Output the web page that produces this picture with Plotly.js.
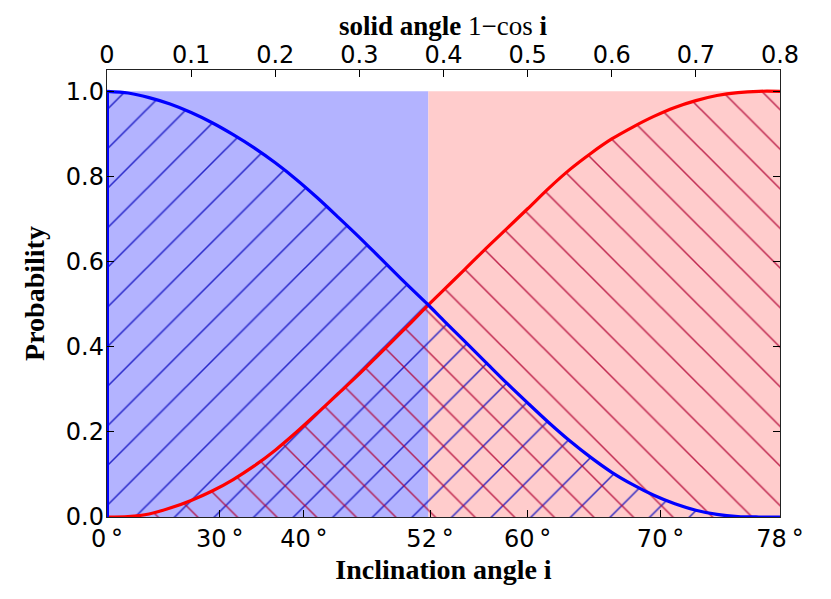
<!DOCTYPE html>
<html>
<head>
<meta charset="utf-8">
<script src="https://cdn.plot.ly/plotly-3.0.1.min.js"></script>
<style>html,body{margin:0;padding:0;background:#fff;}#chart{width:831px;height:599px;}</style>
</head>
<body>
<div id="chart"></div>
<script>
// solid angle (1 - cos i) sample positions
const solidAngle = [0, 0.025, 0.05, 0.075, 0.10, 0.125, 0.15, 0.175, 0.20, 0.225, 0.25, 0.275, 0.30, 0.325, 0.35, 0.375, 0.382, 0.40, 0.425, 0.45, 0.475, 0.50, 0.525, 0.55, 0.575, 0.60, 0.625, 0.65, 0.675, 0.70, 0.725, 0.75, 0.775, 0.80];
// blue (decreasing) probability
const probBlue = [1.000, 0.996, 0.985, 0.970, 0.950, 0.926, 0.898, 0.867, 0.832, 0.793, 0.750, 0.704, 0.657, 0.608, 0.559, 0.511, 0.498, 0.462, 0.413, 0.364, 0.315, 0.268, 0.222, 0.179, 0.140, 0.105, 0.076, 0.051, 0.031, 0.016, 0.006, 0.001, 0.000, 0.000];
// red (increasing) probability
const probRed = [0.000, 0.001, 0.007, 0.021, 0.039, 0.061, 0.088, 0.120, 0.157, 0.199, 0.244, 0.290, 0.336, 0.385, 0.434, 0.484, 0.498, 0.533, 0.581, 0.630, 0.677, 0.724, 0.772, 0.816, 0.854, 0.888, 0.916, 0.941, 0.962, 0.978, 0.990, 0.997, 1.000, 1.000];

// region split (52 degrees) and solid-angle extent
const splitSolidAngle = 0.382;
const solidAngleMax = 0.8;
const regionHeight = 1.0;

// bottom axis: inclination angle ticks
const angleTickLabels = ['0', '30', '40', '52', '60', '70', '78'];
const angleTickPos = [0, 0.134, 0.234, 0.384, 0.5, 0.658, 0.8];
// top axis: solid angle ticks
const solidTickVals = [0, 0.1, 0.2, 0.3, 0.4, 0.5, 0.6, 0.7, 0.8];
const solidTickText = ['0', '0.1', '0.2', '0.3', '0.4', '0.5', '0.6', '0.7', '0.8'];
// y ticks
const probTickVals = [0, 0.2, 0.4, 0.6, 0.8, 1.0];
const probTickText = ['0.0', '0.2', '0.4', '0.6', '0.8', '1.0'];

const BLUE = '#0000ff', RED = '#ff0000';
const SMOOTH = 0.8;

const traces = [
  { // blue background region
    x: [0, splitSolidAngle], y: [regionHeight, regionHeight], type: 'scatter', mode: 'none',
    fill: 'tozeroy', fillcolor: '#b3b3ff', hoverinfo: 'skip', showlegend: false
  },
  { // pink background region
    x: [splitSolidAngle, solidAngleMax], y: [regionHeight, regionHeight], type: 'scatter', mode: 'none',
    fill: 'tozeroy', fillcolor: '#ffcccc', hoverinfo: 'skip', showlegend: false
  },
  { // blue hatch under blue curve
    x: solidAngle, y: probBlue, type: 'scatter', mode: 'none', fill: 'tozeroy',
    line: { shape: 'spline', smoothing: SMOOTH },
    fillcolor: 'rgba(0,0,0,0)',
    fillpattern: { shape: '/', size: 28, solidity: 0.055, fgcolor: '#1010c0', fgopacity: 0.85, bgcolor: 'rgba(0,0,0,0)' },
    hoverinfo: 'skip', showlegend: false
  },
  { // red hatch under red curve
    x: solidAngle, y: probRed, type: 'scatter', mode: 'none', fill: 'tozeroy',
    line: { shape: 'spline', smoothing: SMOOTH },
    fillcolor: 'rgba(0,0,0,0)',
    fillpattern: { shape: '\\', size: 28, solidity: 0.055, fgcolor: '#b00030', fgopacity: 0.8, bgcolor: 'rgba(0,0,0,0)' },
    hoverinfo: 'skip', showlegend: false
  },
  { // red curve
    x: solidAngle, y: probRed, type: 'scatter', mode: 'lines',
    line: { color: RED, width: 3.2, shape: 'spline', smoothing: SMOOTH }, showlegend: false
  },
  { // blue curve
    x: solidAngle, y: probBlue, type: 'scatter', mode: 'lines',
    line: { color: BLUE, width: 3.2, shape: 'spline', smoothing: SMOOTH }, showlegend: false
  },
  { // blue curve's vertical edge at zero solid angle
    x: [solidAngle[0], solidAngle[0]], y: [0, probBlue[0]], type: 'scatter', mode: 'lines',
    line: { color: BLUE, width: 4 }, showlegend: false
  },
  { // invisible trace to activate top axis
    x: [0, solidAngleMax], y: [0, 0], xaxis: 'x2', yaxis: 'y', type: 'scatter', mode: 'none',
    hoverinfo: 'skip', showlegend: false
  }
];

const tickFont = { family: 'DejaVu Sans, sans-serif', size: 24, color: '#000' };
const titleFont = { family: 'Liberation Serif, DejaVu Serif, serif', size: 28, color: '#000' };

const layout = {
  width: 831, height: 599,
  margin: { l: 107, r: 51, t: 70, b: 82 },
  paper_bgcolor: '#fff', plot_bgcolor: '#fff',
  showlegend: false,
  xaxis: {
    range: [0, solidAngleMax], tickmode: 'array', tickvals: angleTickPos,
    ticktext: angleTickLabels.map(a => a + '\u2009°'),
    ticks: 'inside', ticklen: 7, tickwidth: 1, tickcolor: '#000',
    showgrid: false, zeroline: false, showline: true, linecolor: '#222', linewidth: 1.2,
    tickfont: tickFont,
    title: { text: '<b>Inclination angle i</b>', font: titleFont, standoff: 7 }
  },
  xaxis2: {
    overlaying: 'x', side: 'top', anchor: 'y',
    range: [0, solidAngleMax], tickmode: 'array', tickvals: solidTickVals, ticktext: solidTickText,
    ticks: 'inside', ticklen: 7, tickwidth: 1, tickcolor: '#000',
    showgrid: false, zeroline: false, showline: true, linecolor: '#222', linewidth: 1.2,
    tickfont: tickFont, ticklabelstandoff: -4
  },
  yaxis: {
    range: [0, 1.05], tickmode: 'array', tickvals: probTickVals, ticktext: probTickText,
    ticks: 'inside', ticklen: 7, tickwidth: 1, tickcolor: '#000',
    showgrid: false, zeroline: false, showline: true, mirror: 'ticks', linecolor: '#222', linewidth: 1.2,
    tickfont: tickFont, ticklabelstandoff: -3,
    title: { text: '<b>Probability</b>', font: titleFont, standoff: 13 }
  },
  annotations: [{
    text: '<b>solid angle</b> 1\u2212cos <b>i</b>',
    xref: 'paper', yref: 'paper', x: 0.5, y: 1, xanchor: 'center', yanchor: 'bottom',
    yshift: 27, showarrow: false,
    font: { family: 'Liberation Serif, DejaVu Serif, serif', size: 27, color: '#000' }
  }]
};

Plotly.newPlot('chart', traces, layout, { staticPlot: true, displayModeBar: false });
</script>
</body>
</html>
